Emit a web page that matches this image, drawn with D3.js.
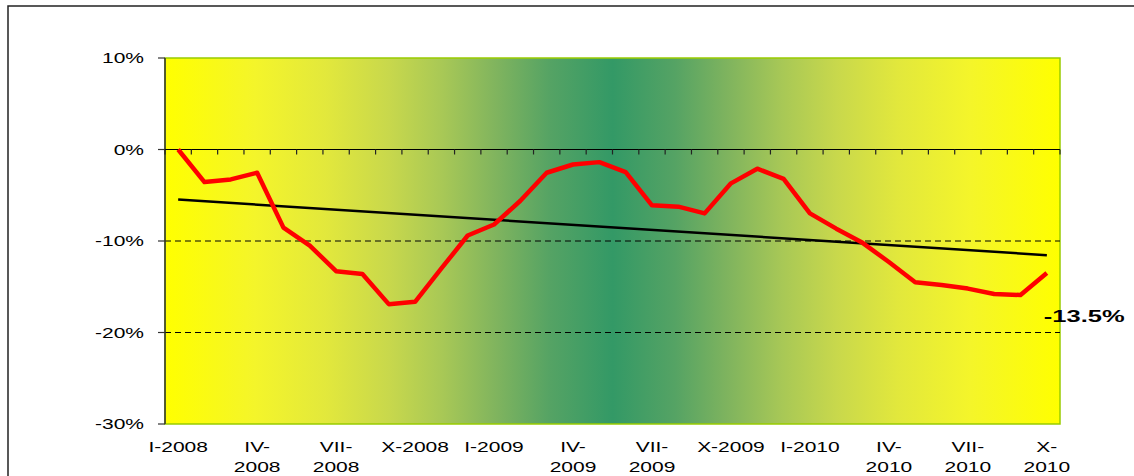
<!DOCTYPE html>
<html>
<head>
<meta charset="utf-8">
<script src="https://cdn.jsdelivr.net/npm/d3@7"></script>
<style>
  body { margin:0; background:#fff; }
  svg { display:block; font-family:"Liberation Sans", Arial, sans-serif; }
</style>
</head>
<body>
<svg id="chart" width="1134" height="476"></svg>
<script>
// monthly categories, I-2008 .. X-2010
const months = [
  'I-2008','II-2008','III-2008','IV-2008','V-2008','VI-2008','VII-2008','VIII-2008','IX-2008','X-2008','XI-2008','XII-2008',
  'I-2009','II-2009','III-2009','IV-2009','V-2009','VI-2009','VII-2009','VIII-2009','IX-2009','X-2009','XI-2009','XII-2009',
  'I-2010','II-2010','III-2010','IV-2010','V-2010','VI-2010','VII-2010','VIII-2010','IX-2010','X-2010'
];
// change in %
const values = [
  0, -3.56, -3.27, -2.54, -8.54, -10.5, -13.3, -13.6, -16.9, -16.65, -13.0, -9.4,
  -8.2, -5.6, -2.54, -1.64, -1.38, -2.47, -6.1, -6.25, -6.98, -3.7, -2.1, -3.2,
  -6.98, -8.65, -10.2, -12.3, -14.5, -14.8, -15.2, -15.8, -15.9, -13.5
];
// labels shown under the axis (every third month), "|" = line break
const tickLabels = [
  ['I-2008','I-2008'], ['IV-2008','IV-|2008'], ['VII-2008','VII-|2008'], ['X-2008','X-2008'],
  ['I-2009','I-2009'], ['IV-2009','IV-|2009'], ['VII-2009','VII-|2009'], ['X-2009','X-2009'],
  ['I-2010','I-2010'], ['IV-2010','IV-|2010'], ['VII-2010','VII-|2010'], ['X-2010','X-|2010']
];
const yTicks = [10, 0, -10, -20, -30];
const lastLabel = '-13.5%';

const svg = d3.select('#chart');
const m = {l:165, r:1060, t:58, b:424};
const sx = 1.5; // source text is stretched horizontally

const x = d3.scaleBand().domain(months).range([m.l, m.r]);
const y = d3.scaleLinear().domain([-30, 10]).range([m.b, m.t]);
const cx = d => x(d) + x.bandwidth()/2;

// outer frame
svg.append('rect')
  .attr('x', 8).attr('y', 6).attr('width', 1200).attr('height', 600)
  .attr('fill', 'none').attr('stroke', '#222').attr('stroke-width', 1.5);

// background gradient: yellow -> sea green -> yellow
const grad = svg.append('defs').append('linearGradient')
  .attr('id', 'bg').attr('x1', '0%').attr('x2', '100%').attr('y1', '0%').attr('y2', '0%');
const half = [[0, '#ffff00'], [0.10, '#f4f52a'], [0.18, '#e2e83c'], [0.25, '#c8d84c'],
              [0.31, '#a8c856'], [0.37, '#80b45e'], [0.43, '#55a364'], [0.5, '#339966']];
half.concat(half.slice(0, -1).reverse().map(s => [1 - s[0], s[1]]))
  .forEach(s => grad.append('stop').attr('offset', s[0]).attr('stop-color', s[1]));

svg.append('rect')
  .attr('x', m.l).attr('y', m.t).attr('width', m.r - m.l).attr('height', m.b - m.t)
  .attr('fill', 'url(#bg)').attr('stroke', '#99cc00').attr('stroke-width', 1.5);

// dashed gridlines
svg.append('g').selectAll('line')
  .data(yTicks.filter(v => v < 0 && v > -30))
  .join('line')
  .attr('x1', m.l).attr('x2', m.r)
  .attr('y1', d => y(d)).attr('y2', d => y(d))
  .attr('stroke', '#000').attr('stroke-width', 1).attr('stroke-dasharray', '6,4');

// y axis
svg.append('line')
  .attr('x1', m.l).attr('x2', m.l).attr('y1', m.t).attr('y2', m.b)
  .attr('stroke', '#333').attr('stroke-width', 1.5);
const yt = svg.append('g').selectAll('g').data(yTicks).join('g');
yt.append('line')
  .attr('x1', m.l - 7).attr('x2', m.l).attr('y1', d => y(d)).attr('y2', d => y(d))
  .attr('stroke', '#333').attr('stroke-width', 1.2);
yt.append('text')
  .attr('transform', d => `translate(${m.l - 21},${y(d) + 5}) scale(${sx},1)`)
  .attr('text-anchor', 'end')
  .style('font-size', '14px')
  .text(d => d + '%');

// x axis at 0% with ticks between months
svg.append('line')
  .attr('x1', m.l).attr('x2', m.r).attr('y1', y(0)).attr('y2', y(0))
  .attr('stroke', '#000').attr('stroke-width', 1.2);
const bounds = months.map(d => x(d)).concat([m.r]);
svg.append('g').selectAll('line').data(bounds).join('line')
  .attr('x1', d => d).attr('x2', d => d)
  .attr('y1', y(0)).attr('y2', y(0) + 5)
  .attr('stroke', '#222').attr('stroke-width', 1.2);

// x labels
const xl = svg.append('g').selectAll('text').data(tickLabels).join('text')
  .attr('transform', d => `translate(${cx(d[0])},452) scale(${sx},1)`)
  .attr('text-anchor', 'middle')
  .style('font-size', '14px');
xl.selectAll('tspan').data(d => d[1].split('|')).join('tspan')
  .attr('x', 0).attr('dy', (d, i) => i ? 20.5 : 0)
  .text(d => d);

// linear trend (least squares)
const n = values.length;
const mi = d3.mean(d3.range(n));
const mv = d3.mean(values);
const slope = d3.sum(values, (v, i) => (i - mi) * (v - mv)) / d3.sum(d3.range(n), i => (i - mi) ** 2);
const icpt = mv - slope * mi;
svg.append('line')
  .attr('x1', cx(months[0])).attr('y1', y(icpt))
  .attr('x2', cx(months[n - 1])).attr('y2', y(icpt + slope * (n - 1)))
  .attr('stroke', '#000').attr('stroke-width', 2.5);

// series
const line = d3.line().x((d, i) => cx(months[i])).y(d => y(d));
svg.append('path')
  .datum(values)
  .attr('d', line)
  .attr('fill', 'none').attr('stroke', '#ff0000').attr('stroke-width', 4.5)
  .attr('stroke-linejoin', 'round');

// last value label
svg.append('text')
  .attr('transform', `translate(${cx(months[n - 1]) - 3},${y(values[n - 1]) + 49}) scale(${sx},1)`)
  .attr('text-anchor', 'start')
  .style('font-size', '17px').style('font-weight', 'bold')
  .text(lastLabel);
</script>
</body>
</html>
